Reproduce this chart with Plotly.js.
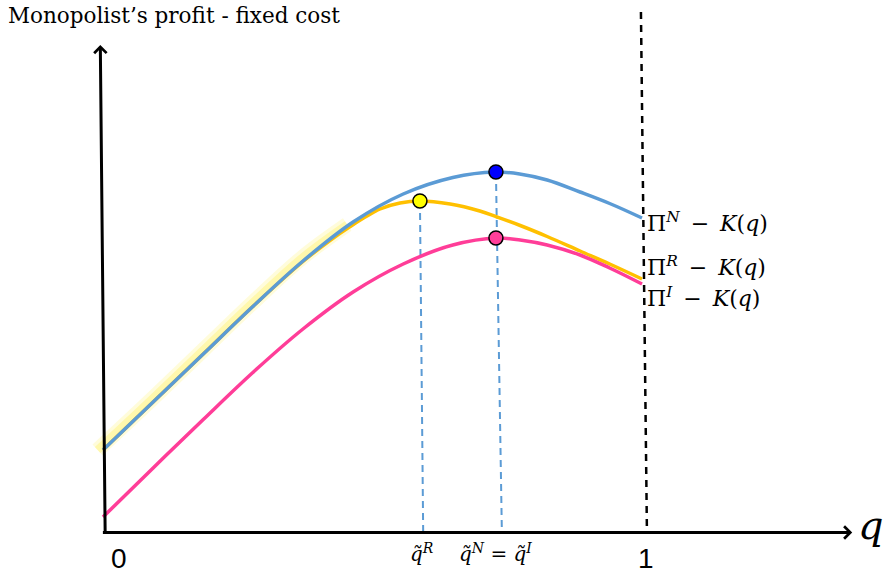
<!DOCTYPE html>
<html><head><meta charset="utf-8">
<script src="https://cdn.plot.ly/plotly-3.0.1.min.js"></script>
<style>html,body{margin:0;padding:0;background:#fff}#chart{width:885px;height:577px}</style>
</head><body><div id="chart"></div>
<script>
// quantity q (0..1) and profit minus fixed cost (arbitrary units)
const qN = [0, 0.093, 0.186, 0.278, 0.371, 0.464, 0.557, 0.649, 0.727, 0.773, 0.824, 0.885, 0.940, 1.0];
const profitN = [0.82, 1.30, 1.78, 2.255, 2.71, 3.10, 3.38, 3.545, 3.60, 3.58, 3.52, 3.40, 3.285, 3.14];
const qR = [0, 0.093, 0.186, 0.278, 0.371, 0.421, 0.453, 0.514, 0.551, 0.588, 0.644, 0.699, 0.731, 0.774, 0.824, 0.885, 0.940, 1.0];
const profitR = [0.82, 1.30, 1.78, 2.255, 2.705, 2.915, 3.035, 3.23, 3.29, 3.31, 3.28, 3.21, 3.15, 3.065, 2.955, 2.81, 2.68, 2.53];
const qI = [0, 0.093, 0.186, 0.278, 0.371, 0.464, 0.557, 0.649, 0.731, 0.774, 0.824, 0.885, 0.940, 1.0];
const profitI = [0.15, 0.64, 1.125, 1.595, 2.03, 2.40, 2.68, 2.87, 2.94, 2.92, 2.87, 2.77, 2.64, 2.48];
// hand highlight along the common segment
const hlQ = [-0.01, 0.093, 0.186, 0.278, 0.371, 0.453];
const hlY = [0.82, 1.34, 1.82, 2.295, 2.75, 3.075];
// optima
const qTildeR = 0.588, peakR = 3.31;
const qTildeN = 0.729, peakN = 3.60, peakI = 2.94;
const tickQ = [0, 1];
const tickLabels = ['0', '1'];
const curveLabels = [
  'Π<sup><i>N</i></sup>\u2002−\u2002<i>K</i>(<i>q</i>)',
  'Π<sup><i>R</i></sup>\u2002−\u2002<i>K</i>(<i>q</i>)',
  'Π<sup><i>I</i></sup>\u2002−\u2002<i>K</i>(<i>q</i>)'
];
const yTitle = 'Monopolist’s profit - fixed cost';

const blue = '#5b9bd5', yellow = '#ffc000', pink = '#ff3d98';

const traces = [
  {x: hlQ, y: hlY, mode: 'lines', line: {color: 'rgba(255,240,90,0.22)', width: 15, shape: 'spline'}, hoverinfo: 'skip'},
  {x: hlQ, y: hlY, mode: 'lines', line: {color: 'rgba(255,240,90,0.35)', width: 8, shape: 'spline'}, hoverinfo: 'skip'},
  {x: qR, y: profitR, mode: 'lines', line: {color: yellow, width: 3.5, shape: 'spline'}},
  {x: qN, y: profitN, mode: 'lines', line: {color: blue, width: 3.5, shape: 'spline'}},
  {x: qI, y: profitI, mode: 'lines', line: {color: pink, width: 3.5, shape: 'spline'}},
  {x: [qTildeR, qTildeN, qTildeN], y: [peakR, peakN, peakI], mode: 'markers',
   marker: {size: 14, color: ['#ffff00', '#0000ff', '#ff3f9a'], line: {color: '#000', width: 1.5}}}
];

const shapes = [
  {type: 'line', xref: 'x', yref: 'y', x0: qTildeR, y0: peakR, x1: qTildeR + 0.006, y1: 0,
   line: {color: blue, width: 2, dash: '7px,5px'}, layer: 'below'},
  {type: 'line', xref: 'x', yref: 'y', x0: qTildeN, y0: peakN, x1: qTildeN + 0.011, y1: 0,
   line: {color: blue, width: 2, dash: '7px,5px'}, layer: 'below'},
  {type: 'line', xref: 'x', yref: 'y', x0: tickQ[1] - 0.002, y0: 5.20, x1: tickQ[1] + 0.009, y1: 0.05,
   line: {color: '#000', width: 2.5, dash: '7px,6px'}, layer: 'below'}
];

const annotations = [
  // y axis arrow
  {xref: 'x', yref: 'y', axref: 'x', ayref: 'y', x: -0.005, y: 4.87, ax: 0.004, ay: -0.015,
   text: '', showarrow: true, arrowhead: 4, arrowsize: 0.8, arrowwidth: 3, arrowcolor: '#000', standoff: 0},
  // x axis arrow
  {xref: 'x', yref: 'y', axref: 'x', ayref: 'y', x: 1.39, y: -0.005, ax: -0.003, ay: -0.005,
   text: '', showarrow: true, arrowhead: 4, arrowsize: 0.8, arrowwidth: 3, arrowcolor: '#000', standoff: 0},
  {xref: 'x', yref: 'y', x: 1.425, y: 0.07, text: '<i>q</i>', showarrow: false,
   font: {family: 'DejaVu Serif', size: 40, color: '#000'}},
  {xref: 'x', yref: 'y', x: tickQ[0], xshift: 16, y: -0.26, text: tickLabels[0], showarrow: false,
   font: {family: 'Liberation Sans', size: 28, color: '#000'}},
  {xref: 'x', yref: 'y', x: tickQ[1], xshift: 4, y: -0.26, text: tickLabels[1], showarrow: false,
   font: {family: 'Liberation Sans', size: 28, color: '#000'}},
  {xref: 'x', yref: 'y', x: qTildeR, xshift: 2, y: -0.21, text: '<i>q̃</i><sup><i>R</i></sup>', showarrow: false,
   font: {family: 'DejaVu Serif', size: 20, color: '#000'}},
  {xref: 'x', yref: 'y', x: qTildeN, y: -0.21, text: '<i>q̃</i><sup><i>N</i></sup> = <i>q̃</i><sup><i>I</i></sup>', showarrow: false,
   font: {family: 'DejaVu Serif', size: 20, color: '#000'}},
  {xref: 'x', yref: 'y', x: 1.0056, y: 3.10, xanchor: 'left', text: curveLabels[0], showarrow: false,
   font: {family: 'DejaVu Serif', size: 22, color: '#000'}},
  {xref: 'x', yref: 'y', x: 1.0056, y: 2.66, xanchor: 'left', text: curveLabels[1], showarrow: false,
   font: {family: 'DejaVu Serif', size: 22, color: '#000'}},
  {xref: 'x', yref: 'y', x: 1.0056, y: 2.35, xanchor: 'left', text: curveLabels[2], showarrow: false,
   font: {family: 'DejaVu Serif', size: 22, color: '#000'}}
];

const layout = {
  width: 885, height: 577,
  margin: {l: 0, r: 0, t: 0, b: 0},
  paper_bgcolor: '#fff', plot_bgcolor: '#fff',
  xaxis: {range: [-0.1911, 1.4508], visible: false},
  yaxis: {range: [-0.45, 5.32], visible: false},
  showlegend: false,
  title: {text: yTitle, xref: 'container', yref: 'container', x: 8/885, xanchor: 'left', y: 1 - 15/577, yanchor: 'middle',
          font: {family: 'DejaVu Serif', size: 21.5, color: '#000'}},
  shapes: shapes,
  annotations: annotations
};

Plotly.newPlot('chart', traces, layout, {displayModeBar: false, staticPlot: true});
</script>
</body></html>
